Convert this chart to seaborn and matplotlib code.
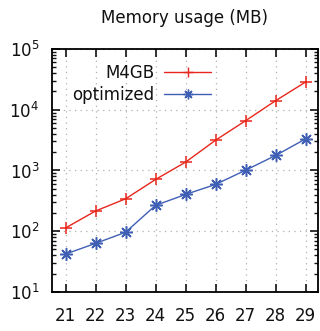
import matplotlib
matplotlib.use("Agg")
import matplotlib.pyplot as plt
from matplotlib.ticker import LogLocator, NullFormatter
import seaborn as sns
import pandas as pd

# Problem size (x) and peak memory in MB for the two implementations
sizes = [21, 22, 23, 24, 25, 26, 27, 28, 29]
m4gb_mb = [113, 215, 341, 711, 1370, 3150, 6590, 14070, 28600]
optimized_mb = [42, 63, 96, 266, 403, 589, 1010, 1765, 3310]
series_names = ["M4GB", "optimized"]

df = pd.DataFrame({
    "size": sizes * 2,
    "memory": m4gb_mb + optimized_mb,
    "series": [series_names[0]] * len(sizes) + [series_names[1]] * len(sizes),
})

sns.set_style("ticks")
plt.rcParams["font.family"] = ["DejaVu Sans"]
plt.rcParams["text.color"] = "#111111"
plt.rcParams["xtick.color"] = "#111111"
plt.rcParams["ytick.color"] = "#111111"

fig = plt.figure(figsize=(3.2, 3.31), dpi=100)
ax = fig.add_axes([0.1625, 0.118, 0.83, 0.734])

palette = {"M4GB": "#e8261c", "optimized": "#3f5fb5"}
markers = {"M4GB": "+", "optimized": (8, 2, 0)}

sns.lineplot(data=df, x="size", y="memory", hue="series", style="series",
             palette=palette, markers=markers, dashes=False, ax=ax,
             linewidth=1.0, markersize=9, legend=True)

# unfilled markers take the colour of their own line
for ln in ax.lines:
    ln.set_markeredgecolor(ln.get_color())
    ln.set_markeredgewidth(1.1)

ax.set_yscale("log")
ax.set_ylim(10, 1e5)
ax.set_xlim(20.55, 29.4)
ax.set_xticks(sizes)
ax.yaxis.set_major_locator(LogLocator(base=10, numticks=10))
ax.yaxis.set_minor_locator(LogLocator(base=10, subs=range(2, 10), numticks=10))
ax.yaxis.set_minor_formatter(NullFormatter())

ax.set_xlabel("")
ax.set_ylabel("")
ax.set_title("Memory usage (MB)", fontsize=12, pad=19, color="#111111")

ax.grid(True, which="major", linestyle=(0, (1, 3.5)), color="#b0b0b0", linewidth=0.9)
for s in ax.spines.values():
    s.set_visible(True)
    s.set_linewidth(1.3)
    s.set_color("black")

ax.tick_params(axis="both", which="major", direction="in", length=6, width=1.2,
               top=True, right=True, labelsize=12, pad=9)
ax.tick_params(axis="x", which="major", pad=11)
ax.tick_params(axis="y", which="minor", direction="in", length=3, width=1.0,
               left=True, right=True)
ax.tick_params(axis="x", which="minor", bottom=False, top=False)

handles, labels = ax.get_legend_handles_labels()
for h in handles:
    h.set_markeredgecolor(h.get_color())
    h.set_markeredgewidth(1.0)
    h.set_markersize(7)
leg = ax.legend(handles, labels, loc="upper left", frameon=False, markerfirst=False,
                fontsize=12, handlelength=2.8, handletextpad=0.6, labelspacing=0.25,
                bbox_to_anchor=(0.02, 1.0))

fig.savefig("out.png", dpi=100)
